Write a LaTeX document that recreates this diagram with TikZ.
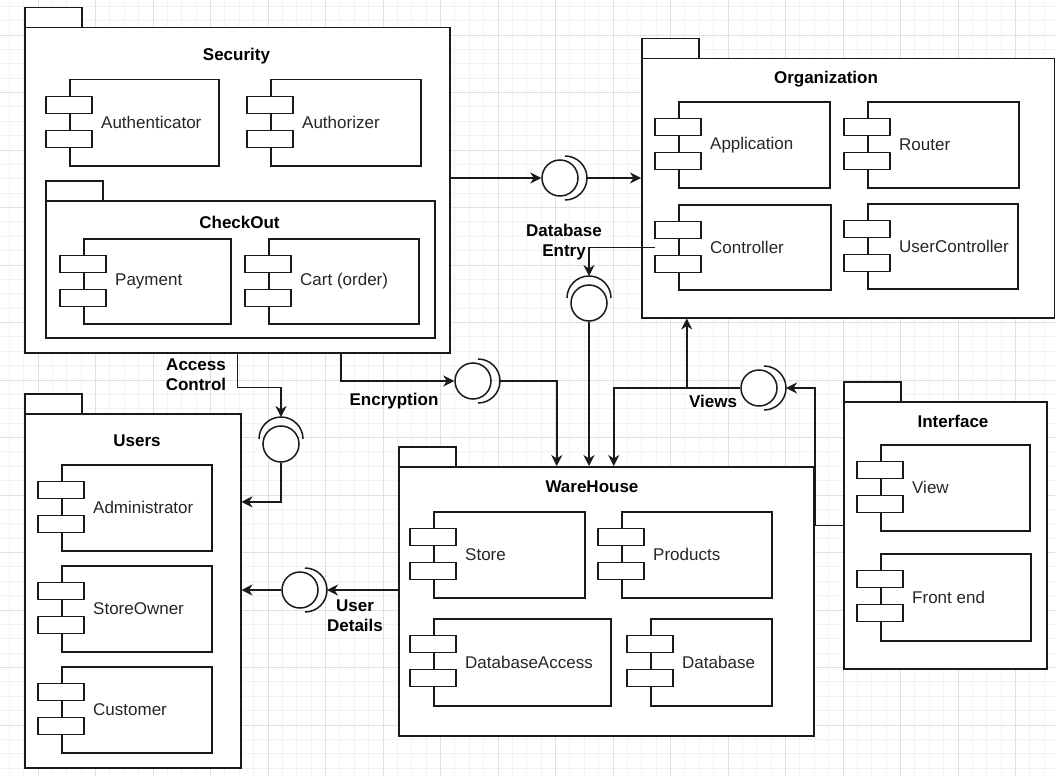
\documentclass[tikz,border=0pt]{standalone}
\usepackage{fontspec}
\setmainfont{Liberation Sans}
\usetikzlibrary{arrows.meta,calc}

\definecolor{gridminor}{HTML}{F3F3F3}
\definecolor{gridmajor}{HTML}{E0E0E0}
\definecolor{ink}{HTML}{1A1A1A}
\definecolor{comptxt}{HTML}{262626}

\tikzset{
  lw/.style={line width=1.5pt},
  pkgtab/.style={draw=ink, lw, fill=white, inner sep=0pt, anchor=north west},
  pkgbody/.style={draw=ink, lw, fill=white, inner sep=0pt, anchor=north west},
  compbody/.style={draw=ink, lw, fill=white, inner sep=0pt, anchor=north west},
  port/.style={draw=ink, lw, fill=white, inner sep=0pt, minimum width=46pt, minimum height=17pt},
  comptext/.style={anchor=west, inner sep=0pt, text=comptxt},
  title/.style={inner sep=0pt, font=\fontsize{17}{20}\selectfont\bfseries},
  conlabel/.style={inner sep=0pt, align=center, font=\fontsize{17}{20}\selectfont\bfseries},
  ball/.style={draw=ink, lw, fill=white, circle, inner sep=0pt, minimum size=36pt},
  socket/.style={draw=ink, lw},
  conn/.style={draw=ink, lw, -{Stealth[length=11pt,width=11pt,inset=3.5pt]}},
}

% package: name, left, tab top, right, bottom
\newcommand{\umlpkg}[5]{%
  \node[pkgtab, minimum width=57pt, minimum height=20pt] (#1-tab) at (#2,#3) {};
  \node[pkgbody, minimum width={#4-#2}, minimum height={#5-#3-20}] (#1) at (#2,#3+20) {};
}
% component: name, left, top, right, bottom, label
\newcommand{\umlcomp}[6]{%
  \node[compbody, minimum width={#4-#2}, minimum height={#5-#3}] (#1) at (#2,#3) {};
  \node[port] (#1-p1) at (#2,#3+26) {};
  \node[port] (#1-p2) at (#2,#3+60) {};
  \node[comptext] (#1-txt) at ([xshift=32pt]#1.west) {#6};
}
% provided/required interface: name, x, y, direction of the socket
\newcommand{\iface}[4]{%
  \node[ball] (#1) at (#2,#3) {};
  \coordinate (#1-sk) at ($(#1.center)+(#4:27)$);
  \draw[socket] ($(#1.center)+(#4:5)+(#4-90:22)$) arc[start angle=#4-90, end angle=#4+90, radius=22];
}

\begin{document}
\begin{tikzpicture}[x=1pt, y=-1pt, font=\fontsize{17}{20}\selectfont]
\useasboundingbox (0,0) rectangle (1055,776);
\fill[white] (0,0) rectangle (1055,776);

% background grid
\foreach \k in {0,...,72} \draw[gridminor, line width=0.8pt] ({9.25+14.375*\k},0) -- ++(0,776);
\foreach \k in {0,...,53} \draw[gridminor, line width=0.8pt] (0,{6.25+14.375*\k}) -- ++(1055,0);
\foreach \k in {0,...,17} \draw[gridmajor, line width=0.8pt] ({38+57.5*\k},0) -- ++(0,776);
\foreach \k in {0,...,12} \draw[gridmajor, line width=0.8pt] (0,{35+57.5*\k}) -- ++(1055,0);

% Security package with CheckOut inside
\umlpkg{sec}{24}{7}{449}{352}
\node[title] (sec-title) at (236.5,56) {Security};
\umlcomp{auth}{69}{79}{218}{165}{Authenticator}
\umlcomp{authz}{270}{79}{420}{165}{Authorizer}
\umlpkg{chk}{45}{180}{434}{337}
\node[title] (chk-title) at (239.5,222) {CheckOut};
\umlcomp{pay}{83}{238}{230}{323}{Payment}
\umlcomp{cart}{268}{238}{418}{323}{Cart (order)}

% Organization package
\umlpkg{org}{641}{38}{1054}{317}
\node[title] (org-title) at (826,79) {Organization};
\umlcomp{app}{678}{101}{829}{187}{Application}
\umlcomp{router}{867}{101}{1018}{187}{Router}
\umlcomp{ctrl}{678}{204}{830}{289}{Controller}
\umlcomp{uctrl}{867}{203}{1017}{288}{UserController}

% Users package
\umlpkg{users}{24}{393}{240}{767}
\node[title] (users-title) at (137,441) {Users};
\umlcomp{admin}{61}{464}{211}{550}{Administrator}
\umlcomp{owner}{61}{565}{211}{651}{StoreOwner}
\umlcomp{cust}{61}{666}{211}{752}{Customer}

% WareHouse package
\umlpkg{wh}{398}{446}{813}{735}
\node[title] (wh-title) at (592,487) {WareHouse};
\umlcomp{store}{433}{511}{584}{597}{Store}
\umlcomp{prod}{621}{511}{771}{597}{Products}
\umlcomp{dba}{433}{618}{610}{705}{DatabaseAccess}
\umlcomp{db}{650}{618}{771}{705}{Database}

% Interface package
\umlpkg{ifc}{843}{381}{1046}{668}
\node[title] (ifc-title) at (953,421) {Interface};
\umlcomp{view}{880}{444}{1029}{530}{View}
\umlcomp{front}{880}{553}{1030}{640}{Front end}

% interfaces (ball and socket)
\iface{iso}{560}{178}{0}
\iface{iac}{281}{444}{270}
\iface{ienc}{473}{381}{0}
\iface{idb}{589}{303}{270}
\iface{iview}{759}{388}{0}
\iface{iud}{300}{590}{0}

% Security -> Organization
\draw[conn] (iso -| sec.east) -- (iso.west);
\draw[conn] (iso-sk) -- (iso-sk -| org.west);

% Access Control
\draw[conn] (sec.south) -- ++(0,34) -| (iac-sk);
\draw[conn] (iac.south) |- ($(users.north east)!0.25!(users.south east)$);
\node[conlabel] (lab-ac) at (196,375) {Access\\Control};

% Encryption
\draw[conn] ([xshift=103.5pt]sec.south) |- (ienc.west);
\draw[conn] (ienc-sk) -| ([xshift=-49.5pt]wh.north);
\node[conlabel] (lab-enc) at (394,401) {Encryption};

% Database Entry
\draw[conn] ([xshift=-23pt]ctrl.west) -| (idb-sk);
\draw[conn] (idb.south) -- (idb.south |- wh.north);
\node[conlabel] (lab-db) at (564,242) {Database\\Entry};

% Views
\draw[conn] ([yshift=10pt]ifc.west) -- ++(-28,0) |- (iview-sk);
\draw[conn] (iview.west) -| ([xshift=7.5pt]wh.north);
\draw[conn] ([xshift=-161.5pt]org.south |- iview) -- ([xshift=-161.5pt]org.south);
\node[conlabel] (lab-views) at (713,401) {Views};

% User Details
\draw[conn] (iud -| wh.west) -- (iud-sk);
\draw[conn] (iud.west) -- (iud -| users.east);
\node[conlabel] (lab-ud) at (355,616) {User\\Details};
\end{tikzpicture}
\end{document}
